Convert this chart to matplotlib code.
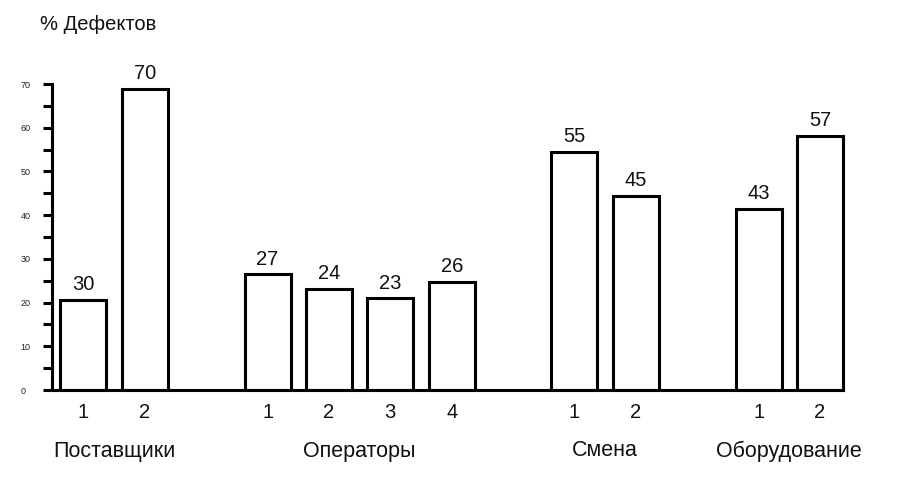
import matplotlib
matplotlib.use("Agg")
import matplotlib.pyplot as plt
import matplotlib.transforms as mtransforms
import numpy as np

plt.rcParams["font.family"] = ["Liberation Sans", "DejaVu Sans"]

###############################################################################
# Data
###############################################################################

groups = ["Поставщики", "Операторы", "Смена", "Оборудование"]
group_sizes = [2, 4, 2, 2]
bar_ticks = ["1", "2", "1", "2", "3", "4", "1", "2", "1", "2"]
bar_heights = [20.6, 68.9, 26.5, 23.1, 21.0, 24.7, 54.5, 44.4, 41.4, 58.1]
bar_labels = ["30", "70", "27", "24", "23", "26", "55", "45", "43", "57"]
y_ticks = [0, 10, 20, 30, 40, 50, 60, 70]

###############################################################################
# Layout
###############################################################################

positions = []
group_centers = []
slot = 0
for size in group_sizes:
    members = list(range(slot, slot + size))
    positions.extend(members)
    group_centers.append(np.mean(members))
    slot += size + 1

fig = plt.figure(figsize=(9, 4.84), dpi=100)
W, H = 900, 484
ax = fig.add_axes([52 / W, (H - 390) / H, (843 - 52) / W, (390 - 84) / H])

ax.bar(
    positions,
    bar_heights,
    width=0.75,
    color="white",
    edgecolor="black",
    linewidth=2.2,
    clip_on=False,
)

for x, h, lab in zip(positions, bar_heights, bar_labels):
    ax.annotate(
        lab,
        (x, h),
        xytext=(0, 4),
        textcoords="offset points",
        ha="center",
        va="bottom",
        fontsize=14.5,
        color="#111111",
    )

ax.set_xlim(-0.512, positions[-1] + 0.375)
ax.set_ylim(0, 70)

for side in ["top", "right"]:
    ax.spines[side].set_visible(False)
for side in ["left", "bottom"]:
    ax.spines[side].set_linewidth(2.2)

ax.set_yticks(np.arange(0, 71, 5), minor=True)
ax.set_yticks(y_ticks)
ax.set_yticklabels([str(t) for t in y_ticks], fontsize=6.5, color="#222222", ha="left")
ax.tick_params(axis="y", which="both", direction="out", length=6.5, width=2.2, pad=16)

ax.set_xticks(positions)
ax.set_xticklabels(bar_ticks, fontsize=14.5, color="#111111")
ax.tick_params(axis="x", length=0, pad=9)

trans = mtransforms.blended_transform_factory(ax.transData, fig.transFigure)
for name, cx in zip(groups, group_centers):
    ax.text(cx, (H - 451) / H, name, transform=trans, ha="center", va="center",
            fontsize=15.5, color="#111111")

fig.text(40 / W, (H - 25) / H, "% Дефектов", ha="left", va="center",
         fontsize=14.5, color="#111111")

fig.savefig("out.png", dpi=100)
